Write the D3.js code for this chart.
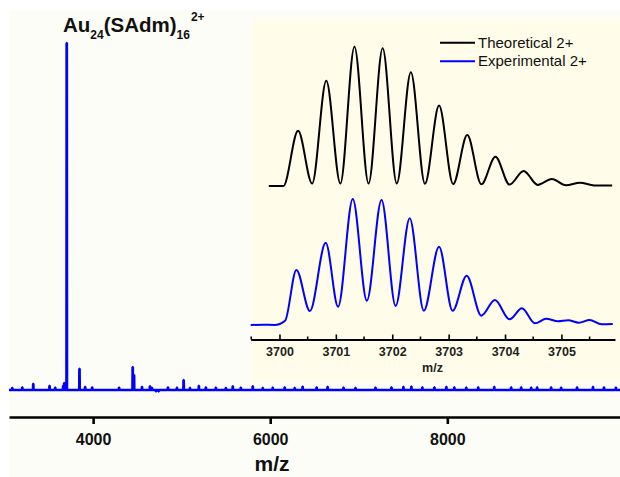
<!DOCTYPE html>
<html>
<head>
<meta charset="utf-8">
<script src="https://cdn.jsdelivr.net/npm/d3@7"></script>
<style>
  html, body { margin: 0; padding: 0; background: #fff; }
  svg { display: block; font-family: "Liberation Sans", Arial, sans-serif; }
</style>
</head>
<body>
<svg id="chart" width="620" height="477"></svg>
<script>
// full-range spectrum: [m/z, relative intensity]
const mainPeak = [3702, 100];
const otherPeaks = [
    [3324, 1.8], [3508, 1.2], [3673, 2.0], [3846, 6.1],
    [4447, 6.6], [4462, 4.3], [4642, 1.1], [5022, 2.9], [5194, 1.2]
];
const noiseSpikes = [
    [3087, 0.6], [3200, 0.8], [3572, 0.7], [3662, 1.2], [3910, 0.9], [3989, 0.8],
    [4293, 0.7], [4552, 0.9], [4665, 0.6], [4710, -0.4], [4740, -0.4], [4845, 0.8],
    [4947, 0.7], [5093, 0.6], [5273, 0.8], [5386, 0.7], [5499, 0.6], [5577, 1.1],
    [5668, 0.7], [5803, 1.1], [5916, 0.6], [6028, 0.7], [6163, 0.8], [6276, 0.6],
    [6366, 1.0], [6524, 0.8], [6648, 0.9], [6828, 0.7], [6963, 0.6], [7189, 0.7],
    [7369, 0.8], [7504, 0.9], [7594, 1.0], [7718, 0.8], [7854, 0.8], [7989, 0.9],
    [8079, 0.8], [8214, 0.7], [8349, 0.8], [8530, 0.9], [8721, 0.8], [8834, 0.8],
    [8947, 0.7], [9014, 0.8], [9172, 0.8], [9285, 0.7], [9465, 0.8], [9645, 0.9],
    [9769, 0.8], [9904, 0.7]
];
const mainTicks = [4000, 6000, 8000];

// inset: theoretical isotope pattern (peak tops and valleys)
const theoMz = [3699.81, 3700.07, 3700.33, 3700.58, 3700.83, 3701.08, 3701.33, 3701.58,
    3701.83, 3702.08, 3702.33, 3702.58, 3702.83, 3703.08, 3703.33, 3703.58, 3703.83,
    3704.08, 3704.33, 3704.58, 3704.83, 3705.08, 3705.33, 3705.58, 3705.90];
const theoInt = [0, 0, 39.7, 1.8, 75.6, 1.8, 100, 1.8, 98.8, 1.8, 81.6, 1.6, 57.7, 1.4,
    36.6, 1.2, 21.0, 1.0, 10.8, 0.8, 5.0, 0.6, 2.4, 0.4, 0.3];

// inset: experimental trace
const expMz = [3699.49, 3699.72, 3699.91, 3700.10, 3700.30, 3700.54, 3700.82, 3701.04,
    3701.30, 3701.55, 3701.81, 3702.06, 3702.31, 3702.56, 3702.83, 3703.07, 3703.32,
    3703.58, 3703.82, 3704.08, 3704.30, 3704.53, 3704.73, 3704.94, 3705.12, 3705.31,
    3705.50, 3705.71, 3705.91];
const expInt = [0, 0.2, 0, 3.4, 43.7, 11.1, 65.3, 14.5, 100, 19.3, 99.2, 15.1, 84.7, 11.3,
    62.1, 11.3, 39.1, 7.4, 19.8, 4.5, 13.3, 1.3, 5.0, 2.9, 3.7, 1.8, 4.0, 0.6, 0.8];
const insetTicks = [3700, 3701, 3702, 3703, 3704, 3705];
const insetMinor = [3699.5, 3700.5, 3701.5, 3702.5, 3703.5, 3704.5, 3705.5];

const legendLabels = ["Theoretical 2+", "Experimental 2+"];
const legendColors = ["#000000", "#0000ff"];

const svg = d3.select("#chart");

// faint plot background
svg.append("rect")
    .attr("x", 9).attr("y", 10)
    .attr("width", 611).attr("height", 467)
    .attr("fill", "#fdfdf7");

// ---------- main spectrum ----------
const x = d3.scaleLinear().domain([3050, 9950]).range([9, 620]);
const y = d3.scaleLinear().domain([0, 100]).range([390, 43]);

const sticks = [mainPeak, ...otherPeaks, ...noiseSpikes].sort((a, b) => a[0] - b[0]);
const specPts = [[3050, 0]];
sticks.forEach(([m, h]) => {
    specPts.push([m - 3, 0], [m - 1, h], [m + 1, h], [m + 3, 0]);
});
specPts.push([9950, 0]);

// inset background
svg.append("rect")
    .attr("x", 251).attr("y", 19)
    .attr("width", 369).attr("height", 363)
    .attr("fill", "#fffdea");

svg.append("path")
    .datum(specPts)
    .attr("fill", "none")
    .attr("stroke", "#0000ff")
    .attr("stroke-width", 2.6)
    .attr("stroke-linejoin", "bevel")
    .attr("d", d3.line().x(d => x(d[0])).y(d => y(d[1])));

const xAxis = svg.append("g")
    .attr("transform", "translate(0,417)")
    .call(d3.axisBottom(x).tickValues(mainTicks).tickSize(7).tickSizeOuter(0).tickFormat(d3.format("d")));
xAxis.select(".domain").attr("stroke", "#000").attr("stroke-width", 2.6);
xAxis.selectAll(".tick line").attr("stroke", "#000").attr("stroke-width", 2.6);
xAxis.selectAll(".tick text")
    .attr("y", 28).attr("dy", null)
    .attr("font-size", 16).attr("font-weight", "bold")
    .attr("fill", "#111")
    .attr("font-family", "Liberation Sans, Arial, sans-serif");

svg.append("text")
    .attr("x", 272).attr("y", 471)
    .attr("text-anchor", "middle")
    .attr("font-size", 21).attr("font-weight", "bold")
    .attr("fill", "#111")
    .text("m/z");

// title with sub/superscripts
const title = svg.append("text")
    .attr("x", 63).attr("y", 32)
    .attr("font-size", 20.5).attr("font-weight", "bold")
    .attr("fill", "#111");
title.append("tspan").text("Au");
title.append("tspan").attr("font-size", 12).attr("dy", 7).text("24");
title.append("tspan").attr("dy", -7).text("(SAdm)");
title.append("tspan").attr("font-size", 12).attr("dy", 7).text("16");
title.append("tspan").attr("font-size", 12).attr("dx", 1).attr("dy", -18).text("2+");

// ---------- inset ----------
const xi = d3.scaleLinear().domain([3699.49, 3705.95]).range([250.7, 615]);
const yTheo = d3.scaleLinear().domain([0, 100]).range([186, 46.7]);
const yExp = d3.scaleLinear().domain([0, 100]).range([325, 199]);

svg.append("path")
    .datum(theoMz.map((m, i) => [m, theoInt[i]]))
    .attr("fill", "none")
    .attr("stroke", legendColors[0])
    .attr("stroke-width", 2)
    .attr("d", d3.line().curve(d3.curveMonotoneX).x(d => xi(d[0])).y(d => yTheo(d[1])));

svg.append("path")
    .datum(expMz.map((m, i) => [m, expInt[i]]))
    .attr("fill", "none")
    .attr("stroke", legendColors[1])
    .attr("stroke-width", 2)
    .attr("d", d3.line().curve(d3.curveMonotoneX).x(d => xi(d[0])).y(d => yExp(d[1])));

const insetAxis = svg.append("g")
    .attr("transform", "translate(0,339.5)")
    .call(d3.axisBottom(xi).tickValues(insetTicks).tickSize(-5).tickSizeOuter(0).tickFormat(d3.format("d")));
insetAxis.select(".domain").attr("stroke", "#000").attr("stroke-width", 1.8);
insetAxis.selectAll(".tick line").attr("stroke", "#000").attr("stroke-width", 1.6);
insetAxis.selectAll(".tick text")
    .attr("y", 16.5).attr("dy", null)
    .attr("font-size", 12.5).attr("font-weight", "bold")
    .attr("fill", "#222")
    .attr("font-family", "Liberation Sans, Arial, sans-serif");

svg.append("g")
    .selectAll("line")
    .data(insetMinor)
    .join("line")
    .attr("x1", d => xi(d)).attr("x2", d => xi(d))
    .attr("y1", 339.5).attr("y2", 336.5)
    .attr("stroke", "#000").attr("stroke-width", 1.6);

svg.append("text")
    .attr("x", 432.5).attr("y", 372)
    .attr("text-anchor", "middle")
    .attr("font-size", 12.5).attr("font-weight", "bold")
    .attr("fill", "#222")
    .text("m/z");

// legend
const legend = svg.append("g")
    .selectAll("g")
    .data(legendLabels)
    .join("g")
    .attr("transform", (d, i) => `translate(440,${42.7 + i * 18.5})`);
legend.append("line")
    .attr("x1", 0).attr("x2", 35)
    .attr("stroke", (d, i) => legendColors[i])
    .attr("stroke-width", 2);
legend.append("text")
    .attr("x", 38).attr("dy", "0.35em")
    .attr("font-size", 15)
    .attr("fill", "#111")
    .text(d => d);
</script>
</body>
</html>
